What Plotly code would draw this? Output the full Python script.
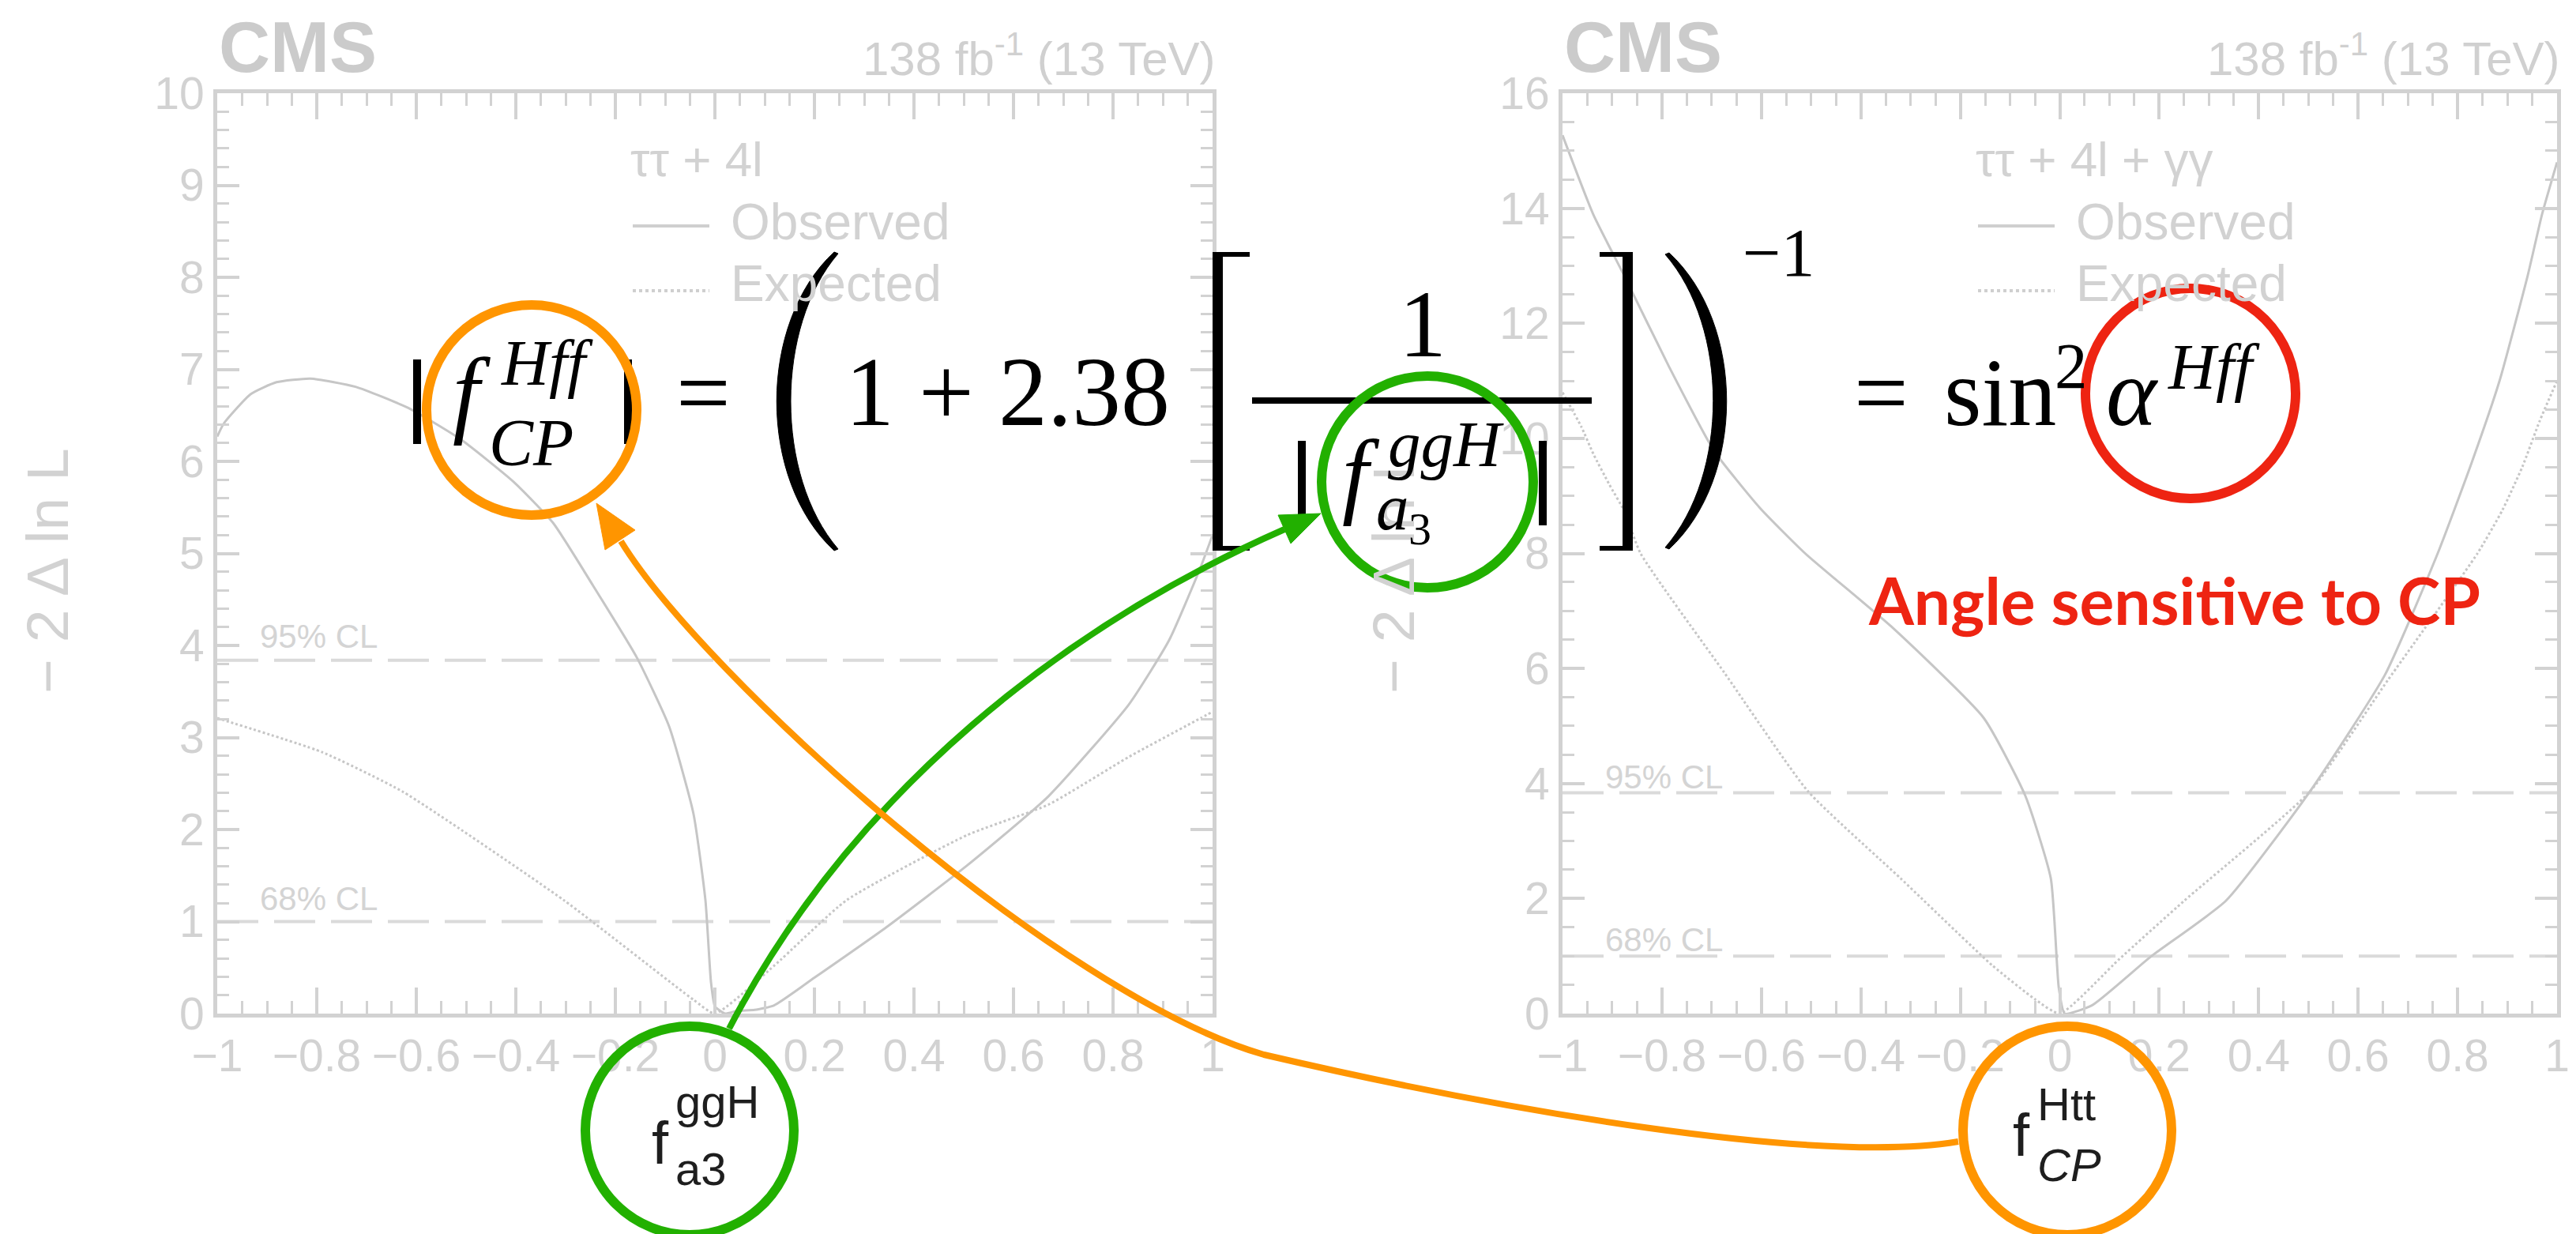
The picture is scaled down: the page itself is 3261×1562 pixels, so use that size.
import plotly.graph_objects as go

W, H = 3261, 1562

# ---------------- likelihood scans (-2 Delta ln L vs f_CP) ----------------
# tau tau + 4l combination
left_obs_x = [-1.0, -0.987, -0.933, -0.881, -0.813, -0.722, -0.616, -0.511, -0.405, -0.325,
              -0.246, -0.157, -0.092, -0.043, -0.019, -0.008, 0.0, 0.02, 0.045, 0.08,
              0.119, 0.2, 0.345, 0.507, 0.67, 0.832, 0.913, 0.976, 1.0]
left_obs_y = [6.27, 6.41, 6.73, 6.86, 6.90, 6.81, 6.58, 6.24, 5.78, 5.33,
              4.66, 3.87, 3.12, 2.17, 1.23, 0.35, 0.08, 0.0, 0.03, 0.04,
              0.09, 0.39, 0.94, 1.61, 2.36, 3.36, 4.06, 4.85, 5.2]
left_exp_x = [-1.0, -0.789, -0.627, -0.303, -0.043, 0.0, 0.119, 0.264, 0.507, 0.67, 0.832, 0.976, 1.0]
left_exp_y = [3.21, 2.84, 2.41, 1.23, 0.15, 0.0, 0.52, 1.23, 1.94, 2.27, 2.79, 3.21, 3.28]

# tau tau + 4l + gamma gamma combination
right_obs_x = [-1.0, -0.938, -0.876, -0.786, -0.695, -0.603, -0.512, -0.339, -0.153, -0.069,
               -0.018, -0.002, 0.01, 0.066, 0.183, 0.334, 0.503, 0.654, 0.76, 0.828,
               0.884, 0.941, 0.97, 1.0]
right_obs_y = [15.27, 13.89, 12.83, 11.25, 9.78, 8.79, 8.0, 6.73, 5.14, 3.78,
               2.35, 0.45, 0.0, 0.15, 0.99, 1.96, 3.86, 5.89, 8.0, 9.57,
               10.99, 12.83, 13.9, 14.8]
right_exp_x = [-1.0, -0.962, -0.938, -0.906, -0.876, -0.843, -0.674, -0.506, -0.32, -0.136,
               -0.05, 0.0, 0.12, 0.25, 0.503, 0.66, 0.84, 0.89, 0.93, 0.965, 1.0]
right_exp_y = [10.8, 10.2, 9.73, 9.2, 8.74, 8.0, 5.92, 3.86, 2.35, 0.84,
               0.25, 0.0, 0.95, 1.96, 3.86, 5.8, 8.0, 8.75, 9.5, 10.3, 11.0]

cl_levels = [1.0, 3.84]
cl_labels = ["68% CL", "95% CL"]

xtick_vals = [-1, -0.8, -0.6, -0.4, -0.2, 0, 0.2, 0.4, 0.6, 0.8, 1]
xtick_text = ["\u22121", "\u22120.8", "\u22120.6", "\u22120.4", "\u22120.2", "0",
              "0.2", "0.4", "0.6", "0.8", "1"]
left_ytick_vals = list(range(0, 11))
right_ytick_vals = list(range(0, 17, 2))

# ---------------- layout geometry (pixels) ----------------
TOP, BOT = 118, 1283
L_X0, L_X1 = 275, 1535
R_X0, R_X1 = 1978, 3237

FAINT = "#d2d2d2"
CURVE = "#c6c6c6"
SANS = "Liberation Sans"
SERIF = "Liberation Serif"


def px(x):
    return x / W


def py(y):
    return 1 - y / H


fig = go.Figure()

panels = [
    ("x", "y", left_obs_x, left_obs_y, left_exp_x, left_exp_y),
    ("x2", "y2", right_obs_x, right_obs_y, right_exp_x, right_exp_y),
]
for xa, ya, ox, oy, ex, ey in panels:
    for lvl in cl_levels:
        fig.add_trace(go.Scatter(x=[-1, 1], y=[lvl, lvl], mode="lines", xaxis=xa, yaxis=ya,
                                 line=dict(color="#dadada", width=4, dash="52px,20px"),
                                 hoverinfo="skip"))
    fig.add_trace(go.Scatter(x=ex, y=ey, mode="lines", xaxis=xa, yaxis=ya,
                             line=dict(color=CURVE, width=3, dash="dot", shape="spline",
                                       smoothing=0.5), hoverinfo="skip"))
    fig.add_trace(go.Scatter(x=ox, y=oy, mode="lines", xaxis=xa, yaxis=ya,
                             line=dict(color=CURVE, width=3, shape="spline", smoothing=0.5),
                             hoverinfo="skip"))


def xaxis_style(x0, x1):
    return dict(domain=[px(x0), px(x1)], range=[-1, 1], showgrid=False, zeroline=False,
                automargin=False,
                showline=True, linecolor=FAINT, linewidth=5, mirror="allticks",
                ticks="inside", ticklen=33, tickwidth=4, tickcolor=FAINT,
                tickvals=xtick_vals, ticktext=xtick_text,
                tickfont=dict(family=SANS, size=57, color=FAINT),
                minor=dict(ticks="inside", ticklen=16, tickwidth=3, tickcolor=FAINT, dtick=0.05))


def yaxis_style(top, minor_dtick, tickvals):
    return dict(domain=[py(BOT), py(TOP)], range=[0, top], showgrid=False, zeroline=False,
                automargin=False,
                showline=True, linecolor=FAINT, linewidth=5, mirror="allticks",
                ticks="inside", ticklen=28, tickwidth=4, tickcolor=FAINT,
                tickvals=tickvals,
                tickfont=dict(family=SANS, size=57, color=FAINT),
                minor=dict(ticks="inside", ticklen=15, tickwidth=3, tickcolor=FAINT,
                           dtick=minor_dtick))


fig.update_layout(
    width=W, height=H, margin=dict(l=0, r=0, t=0, b=0, pad=0, autoexpand=False),
    paper_bgcolor="white", plot_bgcolor="white", showlegend=False,
    xaxis=dict(anchor="y", **xaxis_style(L_X0, L_X1)),
    yaxis=dict(anchor="x", **yaxis_style(10, 0.2, left_ytick_vals)),
    xaxis2=dict(anchor="y2", **xaxis_style(R_X0, R_X1)),
    yaxis2=dict(anchor="x2", **yaxis_style(16, 0.5, right_ytick_vals)),
)

ann = []
shapes = []


def note(x, y, text, size, family=SANS, color=FAINT, xanchor="center", angle=0):
    ann.append(dict(xref="paper", yref="paper", x=px(x), y=py(y), text=text, showarrow=False,
                    xanchor=xanchor, yanchor="middle", textangle=angle,
                    font=dict(family=family, size=size, color=color)))


def serif(cx, base, text, size, italic=False, xanchor="center"):
    t = "<i>%s</i>" % text if italic else text
    note(cx, base - 0.3375 * size, t, size, family=SERIF, color="black", xanchor=xanchor)


def sans(x, base, text, size, color="#1e1e1e", xanchor="left"):
    note(x, base - 0.3465 * size, text, size, family=SANS, color=color, xanchor=xanchor)


def hline(x0, x1, y, color, width, dash="solid"):
    shapes.append(dict(type="line", xref="paper", yref="paper", x0=px(x0), x1=px(x1),
                       y0=py(y), y1=py(y), line=dict(color=color, width=width, dash=dash)))


def vline(x, y0, y1, color, width):
    shapes.append(dict(type="line", xref="paper", yref="paper", x0=px(x), x1=px(x),
                       y0=py(y0), y1=py(y1), line=dict(color=color, width=width)))


def rect(x0, y0, x1, y1, color):
    shapes.append(dict(type="rect", xref="paper", yref="paper", x0=px(x0), x1=px(x1),
                       y0=py(y0), y1=py(y1), fillcolor=color, line=dict(width=0)))


def pt(a, b):
    return "%.6f,%.6f" % (px(a), py(b))


def curve(start, segments, color, width):
    # segments: list of cubic Bezier (c1, c2, end) triples in pixels
    d = "M " + pt(*start)
    for c1, c2, end in segments:
        d += " C " + pt(*c1) + " " + pt(*c2) + " " + pt(*end)
    shapes.append(dict(type="path", xref="paper", yref="paper", path=d,
                       line=dict(color=color, width=width)))


def polygon(points, color):
    d = "M " + pt(*points[0])
    for p in points[1:]:
        d += " L " + pt(*p)
    d += " Z"
    shapes.append(dict(type="path", xref="paper", yref="paper", path=d,
                       fillcolor=color, line=dict(color=color, width=1)))


def paren(top, bottom, c_outer, c_inner, tip_shift):
    # crescent-shaped delimiter built from two cubic curves
    (tx, ty), (bx, by) = top, bottom
    d = "M " + pt(tx, ty)
    d += " C " + pt(c_outer, ty + 90) + " " + pt(c_outer, by - 90) + " " + pt(bx, by)
    d += " L " + pt(bx + tip_shift, by - 2)
    d += " C " + pt(c_inner, by - 95) + " " + pt(c_inner, ty + 95) + " " + pt(tx + tip_shift, ty + 2)
    d += " Z"
    shapes.append(dict(type="path", xref="paper", yref="paper", path=d,
                       fillcolor="black", line=dict(color="black", width=1)))


def ring(cx, cy, r, color, width=12):
    shapes.append(dict(type="circle", xref="paper", yref="paper",
                       x0=px(cx - r), x1=px(cx + r), y0=py(cy + r), y1=py(cy - r),
                       line=dict(color=color, width=width)))


# ---------------- faded CMS plot decorations ----------------
for x0, x1, header in [(L_X0, L_X1, "\u03c4\u03c4 + 4l"), (R_X0, R_X1, "\u03c4\u03c4 + 4l + \u03b3\u03b3")]:
    note(x0, 60, "<b>CMS</b>", 90, color="#cbcbcb", xanchor="left")
    note(x1 + 6, 70, "138 fb<sup>-1</sup> (13 TeV)", 60, color="#d0d0d0", xanchor="right")
    lx = x0 + 521
    sans(lx, 223, header, 62, color=FAINT)
    hline(lx + 5, lx + 102, 286, "#cfcfcf", 4)
    sans(lx + 127, 303, "Observed", 64, color=FAINT)
    hline(lx + 5, lx + 102, 368, "#cfcfcf", 4, dash="dot")
    sans(lx + 127, 381, "Expected", 64, color=FAINT)

# y-axis titles
note(60, 723, "\u2212 2 \u0394 ln L", 75, color=FAINT, angle=-90)
note(1764, 723, "\u2212 2 \u0394 ln L", 75, color=FAINT, angle=-90)

# CL labels in data coordinates
for xa, ya, ys in [("x", "y", [1.245, 4.10]), ("x2", "y2", [1.29, 4.12])]:
    for lab, yv in zip(cl_labels, ys):
        ann.append(dict(xref=xa, yref=ya, x=-0.918, y=yv, text=lab, showarrow=False,
                        xanchor="left", yanchor="middle",
                        font=dict(family=SANS, size=42, color="#d4d4d4")))

# ---------------- formula ----------------
# |f_CP^Hff|
vline(528, 455, 562, "black", 10)
vline(795, 455, 562, "black", 10)
serif(597, 538, "f", 122, italic=True)
serif(692, 487, "Hff", 83, italic=True)
serif(672, 589, "CP", 84, italic=True)
serif(890, 538, "=", 122)

# big left parenthesis
paren((1056, 319), (1056, 697), 959, 981, 5)
serif(1275, 538, "1 + 2.38", 124)

# square brackets
rect(1535, 319, 1548, 697, "black")
rect(1535, 319, 1582, 325, "black")
rect(1535, 691, 1582, 697, "black")
rect(2054, 319, 2067, 697, "black")
rect(2025, 319, 2067, 325, "black")
rect(2025, 691, 2067, 697, "black")

# fraction 1 / |f_a3^ggH|
serif(1801, 451, "1", 120)
rect(1585, 503, 2015, 511, "black")
vline(1648, 558, 665, "black", 10)
vline(1953, 558, 665, "black", 10)
serif(1723, 640, "f", 120, italic=True)
serif(1830, 590, "ggH", 83, italic=True)
serif(1763, 670, "a", 83, italic=True)
serif(1797, 689, "3", 58)

# big right parenthesis and exponent
paren((2113, 320), (2113, 695), 2210, 2189, -5)
serif(2252, 349, "\u22121", 86)

# = sin^2 alpha^Hff
serif(2381, 538, "=", 122)
serif(2532, 538, "sin", 122)
serif(2622, 491, "2", 83)
serif(2699, 538, "\u03b1", 122, italic=True)
serif(2802, 492, "Hff", 83, italic=True)

# ---------------- highlight rings ----------------
ORANGE = "#ff9500"
GREEN = "#22b000"
RED = "#ee2412"
ring(673, 519, 133, ORANGE)
ring(1807, 610, 134, GREEN)
ring(2773, 498, 133, RED)
ring(873, 1431, 132, GREEN)
ring(2617, 1431, 132, ORANGE)

note(2752, 759, "<b>Angle sensitive to CP</b>", 82, family="Lato", color=RED)

# axis-label style symbols inside the lower rings
sans(836, 1473, "f", 76, xanchor="center")
sans(853, 1415, "ggH", 58)
sans(853, 1500, "a3", 58)
sans(2559, 1463, "f", 76, xanchor="center")
sans(2577, 1418, "Htt", 58)
sans(2577, 1495, "<i>CP</i>", 58)

# ---------------- connecting arrows ----------------
curve((923, 1302), [((1080, 1000), (1351, 791), (1626, 670))], GREEN, 8)
polygon([(1672, 650), (1634, 688), (1618, 652)], GREEN)

curve((2479, 1445), [((2300, 1475), (1900, 1405), (1600, 1335)),
                     ((1340, 1260), (890, 855), (786, 685))], ORANGE, 8)
polygon([(755, 637), (804, 671), (766, 696)], ORANGE)

fig.update_layout(annotations=ann, shapes=shapes)
fig.write_html("out.html")
